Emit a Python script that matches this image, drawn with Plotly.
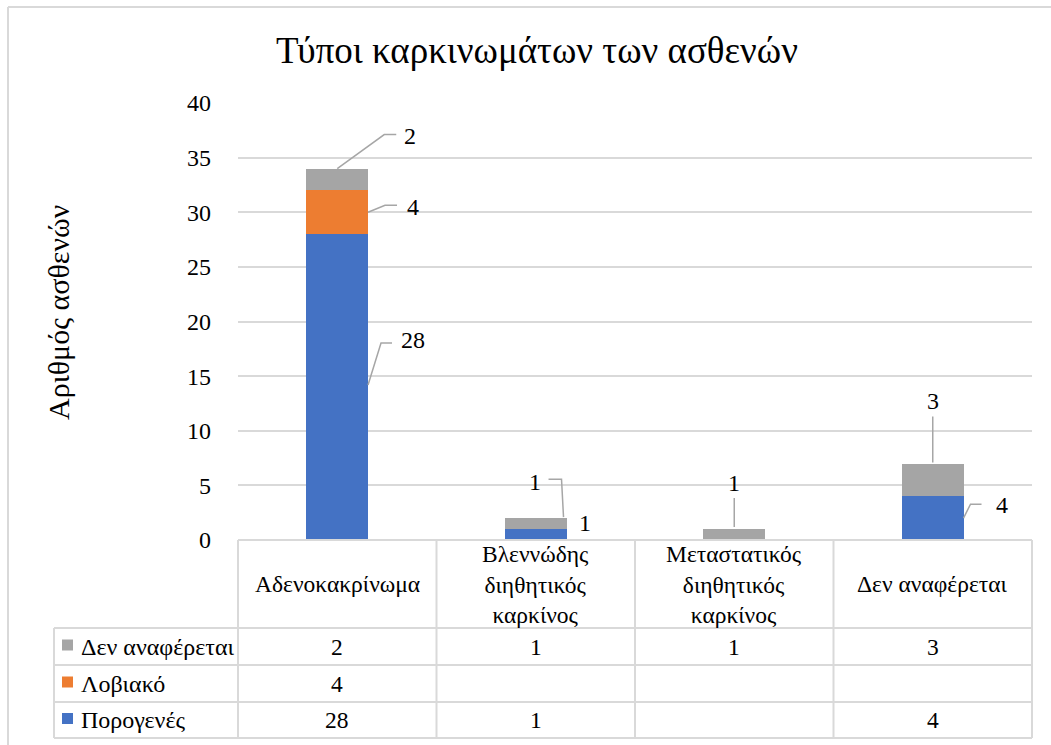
import plotly.graph_objects as go

# ---- data -------------------------------------------------------------
categories = ["Αδενοκακρίνωμα", "Βλεννώδης<br>διηθητικός<br>καρκίνος",
              "Μεταστατικός<br>διηθητικός<br>καρκίνος", "Δεν αναφέρεται"]
series_names = ["Πορογενές", "Λοβιακό", "Δεν αναφέρεται"]
porogenes = [28, 1, None, 4]
loviako = [4, None, None, None]
den_anaferetai = [2, 1, 1, 3]
y_ticks = [0, 5, 10, 15, 20, 25, 30, 35, 40]

title_text = "Τύποι καρκινωμάτων των ασθενών"
y_title = "Αριθμός ασθενών"

# ---- styling ----------------------------------------------------------
colors = ["#4472C4", "#ED7D31", "#A5A5A5"]
FONT = "Liberation Serif"
GRID = "#d9d9d9"
LEADER = "#a6a6a6"
BAR_W = 0.31

W, H = 1051, 745
L, R, T, B = 238, 19, 103, 205
PW, PH = W - L - R, H - T - B


def px(xp):
    return (xp - L) / PW


def py(yp):
    return (H - B - yp) / PH


series = [porogenes, loviako, den_anaferetai]
xs = list(range(len(categories)))

fig = go.Figure()
for name, vals, col in zip(series_names, series, colors):
    fig.add_trace(go.Bar(
        x=xs, y=[v if v is not None else 0 for v in vals], name=name,
        marker=dict(color=col, line=dict(width=0)), width=BAR_W,
        showlegend=False, hoverinfo="skip"))

# stacked bases for label anchoring
bases = []
run = [0] * len(xs)
for vals in series:
    bases.append(list(run))
    run = [r + (v or 0) for r, v in zip(run, vals)]

# data label callouts: (series idx, category idx, anchor side, leader path, label offset)
callouts = [
    (2, 0, "top", "M0,0 L47,34 L59,34", (73, 33)),
    (1, 0, "right", "M0,0 L17,7 L29,7", (45, 5)),
    (0, 0, "right", "M0,2 L13,44 L24,44", (45, 47)),
    (2, 1, "topright", "M-3,1 L-5,39 L-18,39", (-32, 36)),
    (0, 1, "right", None, (18, 12)),
    (2, 2, "top", "M0,2 L0,31", (0, 46)),
    (2, 3, "top", "M0,1 L0,47", (0, 63)),
    (0, 3, "right", "M0,0 L7,14 L18,14", (38, 13)),
]
shapes = []
annotations = []
for si, ci, side, path, (dx, dy) in callouts:
    v = series[si][ci]
    base = bases[si][ci]
    if side == "top":
        ax_, ay_ = ci, base + v
    elif side == "topright":
        ax_, ay_ = ci + BAR_W / 2, base + v
    else:
        ax_, ay_ = ci + BAR_W / 2, base + v / 2
    if path:
        shapes.append(dict(type="path", xref="x", yref="y",
                           xsizemode="pixel", ysizemode="pixel",
                           xanchor=ax_, yanchor=ay_, path=path,
                           line=dict(color=LEADER, width=1.5)))
    annotations.append(dict(x=ax_, y=ay_, xref="x", yref="y", text=str(v),
                            showarrow=False, xshift=dx, yshift=dy,
                            xanchor="center", yanchor="middle",
                            font=dict(family=FONT, size=24, color="black")))

# ---- data table beneath the plot --------------------------------------
col_edges = [L + i * PW / len(categories) for i in range(len(categories) + 1)]
tbl_left = 54
row_lines = [540, 628, 665, 702, 738]


def hline(x0, x1, y):
    shapes.append(dict(type="line", xref="paper", yref="paper",
                       x0=px(x0), x1=px(x1), y0=py(y), y1=py(y),
                       line=dict(color=GRID, width=2), layer="above"))


def vline(x, y0, y1):
    shapes.append(dict(type="line", xref="paper", yref="paper",
                       x0=px(x), x1=px(x), y0=py(y0), y1=py(y1),
                       line=dict(color=GRID, width=2), layer="above"))


hline(col_edges[0], col_edges[-1], row_lines[0])
for yl in row_lines[1:]:
    hline(tbl_left, col_edges[-1], yl)
for xe in col_edges:
    vline(xe, row_lines[0], row_lines[-1])
vline(tbl_left, row_lines[1], row_lines[-1])


def cell_text(x, y, text, anchor="center", size=23.5):
    annotations.append(dict(xref="paper", yref="paper", x=x, y=y, text=text,
                            showarrow=False, xanchor=anchor, yanchor="middle",
                            align="center",
                            font=dict(family=FONT, size=size, color="black")))


# header cells
for ci, cat in enumerate(categories):
    cell_text(px((col_edges[ci] + col_edges[ci + 1]) / 2),
              py((row_lines[0] + row_lines[1]) / 2), cat)

# body rows: top row is the last series
row_order = [2, 1, 0]
for ri, si in enumerate(row_order):
    yc = (row_lines[ri + 1] + row_lines[ri + 2]) / 2
    shapes.append(dict(type="rect", xref="paper", yref="paper",
                       x0=px(62), x1=px(73), y0=py(yc + 4), y1=py(yc - 7),
                       fillcolor=colors[si], line=dict(width=0)))
    cell_text(px(79), py(yc), series_names[si], anchor="left", size=24)
    for ci, v in enumerate(series[si]):
        if v is None:
            continue
        cell_text(px((col_edges[ci] + col_edges[ci + 1]) / 2), py(yc), str(v))

# outer chart frame (top and left edges)
shapes.append(dict(type="line", xref="paper", yref="paper",
                   x0=px(8), x1=px(W + 5), y0=py(7), y1=py(7),
                   line=dict(color=GRID, width=2)))
shapes.append(dict(type="line", xref="paper", yref="paper",
                   x0=px(8), x1=px(8), y0=py(7), y1=py(H + 5),
                   line=dict(color=GRID, width=2)))

# y-axis title
annotations.append(dict(xref="paper", yref="paper", x=px(58),
                        y=py(313), text=y_title, textangle=-90,
                        showarrow=False, xanchor="center", yanchor="middle",
                        font=dict(family=FONT, size=30, color="black")))

fig.update_layout(
    width=W, height=H,
    margin=dict(l=L, r=R, t=T, b=B, autoexpand=False),
    paper_bgcolor="white", plot_bgcolor="white",
    barmode="stack", bargap=0,
    title=dict(text=title_text, x=537 / W, xanchor="center",
               y=1 - 50 / H, yanchor="middle",
               font=dict(family=FONT, size=37, color="black")),
    xaxis=dict(range=[-0.5, len(categories) - 0.5], showticklabels=False,
               showgrid=False, zeroline=False, showline=False, fixedrange=True),
    yaxis=dict(range=[0, 40], tickvals=y_ticks, showgrid=True, gridcolor=GRID,
               gridwidth=1.5, zeroline=False, showline=False,
               ticklabelstandoff=26,
               tickfont=dict(family=FONT, size=24, color="black")),
    shapes=shapes, annotations=annotations,
)

fig.write_html("out.html")
